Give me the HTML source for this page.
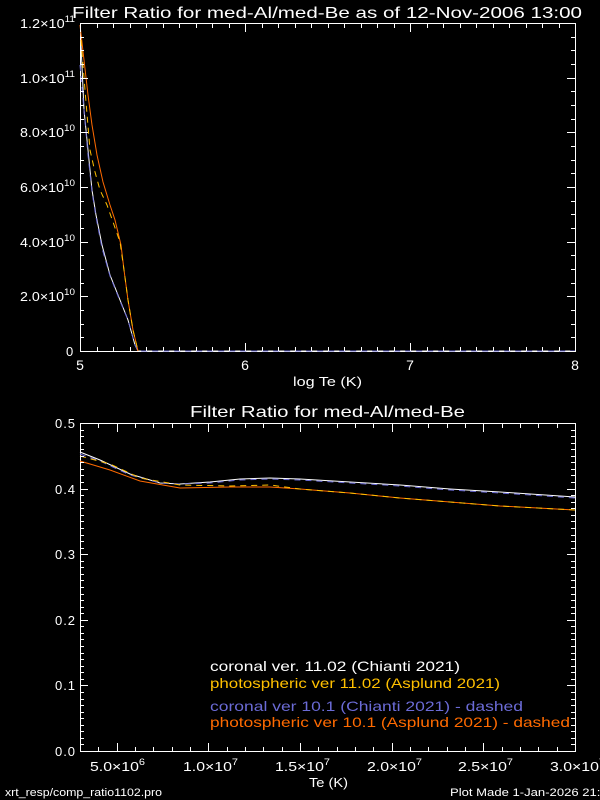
<!DOCTYPE html>
<html><head><meta charset="utf-8"><style>
html,body{margin:0;padding:0;background:#000;}
svg{display:block}
text{font-family:"Liberation Sans","DejaVu Sans",sans-serif;fill:#fff}
</style></head><body>
<svg id="s" width="600" height="800" xmlns="http://www.w3.org/2000/svg">
<rect width="600" height="800" fill="#000"/>
<text x="72" y="18" font-size="16" textLength="510" lengthAdjust="spacingAndGlyphs">Filter Ratio for med-Al/med-Be as of 12-Nov-2006 13:00</text>
<rect x="80.5" y="23.5" width="495" height="328" fill="none" stroke="#fff" stroke-width="1"/>
<g font-size="13" lengthAdjust="spacingAndGlyphs">
<text x="66" y="356">0</text>
<text x="20" y="301" textLength="55" lengthAdjust="spacingAndGlyphs">2.0×10<tspan font-size="9" dy="-6">10</tspan></text>
<text x="20" y="247" textLength="55" lengthAdjust="spacingAndGlyphs">4.0×10<tspan font-size="9" dy="-6">10</tspan></text>
<text x="20" y="192" textLength="55" lengthAdjust="spacingAndGlyphs">6.0×10<tspan font-size="9" dy="-6">10</tspan></text>
<text x="20" y="137" textLength="55" lengthAdjust="spacingAndGlyphs">8.0×10<tspan font-size="9" dy="-6">10</tspan></text>
<text x="20" y="83" textLength="55" lengthAdjust="spacingAndGlyphs">1.0×10<tspan font-size="9" dy="-6">11</tspan></text>
<text x="20" y="28" textLength="55" lengthAdjust="spacingAndGlyphs">1.2×10<tspan font-size="9" dy="-6">11</tspan></text>
</g>
<g font-size="14" text-anchor="middle">
<text x="80" y="370">5</text><text x="245" y="370">6</text><text x="410" y="370">7</text><text x="575" y="370">8</text>
</g>
<text x="293" y="386" font-size="13" textLength="69" lengthAdjust="spacingAndGlyphs">log Te (K)</text>
<polyline fill="none" stroke="#fff" points="81,45 84,110 88,150 92,190 96,215 102,245 110,275 120,300 128,320 135,345 138,351 575,351"/>
<polyline fill="none" stroke="#6b6bd6" stroke-dasharray="6,5" points="80,65 84,110 88,155 92,192 96,217 102,248 110,276 120,301 128,320 135,345 138,351 575,351"/>
<polyline fill="none" stroke="#ff6a00" points="80,25 84,60 88,95 92,125 97,155 103,182 110,205 115,220 121,245 124,270 128,300 133,330 138,351"/>
<polyline fill="none" stroke="#ffc000" stroke-dasharray="6,5" points="81,40 85,90 90,150 95,172 100,190 107,205 113,222 120,242 124,270 128,300 133,330 138,351"/>

<text x="190" y="417" font-size="16" textLength="275" lengthAdjust="spacingAndGlyphs">Filter Ratio for med-Al/med-Be</text>
<rect x="80.5" y="423.5" width="495" height="328" fill="none" stroke="#fff" stroke-width="1"/>
<g font-size="13">
<text x="55" y="756" textLength="20">0.0</text><text x="55" y="690" textLength="20">0.1</text><text x="55" y="625" textLength="20">0.2</text>
<text x="55" y="559" textLength="20">0.3</text><text x="55" y="494" textLength="20">0.4</text><text x="55" y="428" textLength="20">0.5</text>
</g>
<g font-size="13">
<text x="90" y="771" textLength="55" lengthAdjust="spacingAndGlyphs">5.0×10<tspan font-size="9" dy="-6">6</tspan></text>
<text x="183" y="771" textLength="55" lengthAdjust="spacingAndGlyphs">1.0×10<tspan font-size="9" dy="-6">7</tspan></text>
<text x="275" y="771" textLength="55" lengthAdjust="spacingAndGlyphs">1.5×10<tspan font-size="9" dy="-6">7</tspan></text>
<text x="367" y="771" textLength="55" lengthAdjust="spacingAndGlyphs">2.0×10<tspan font-size="9" dy="-6">7</tspan></text>
<text x="458" y="771" textLength="55" lengthAdjust="spacingAndGlyphs">2.5×10<tspan font-size="9" dy="-6">7</tspan></text>
<text x="550" y="771" textLength="55" lengthAdjust="spacingAndGlyphs">3.0×10<tspan font-size="9" dy="-6">7</tspan></text>
</g>
<text x="309" y="787" font-size="13" textLength="39" lengthAdjust="spacingAndGlyphs">Te (K)</text>
<polyline fill="none" stroke="#fff" points="80,452 100,460 130,474 160,483 180,484 210,482 240,479 270,478 300,479 350,482 400,485 450,489 500,492 575,497"/>
<polyline fill="none" stroke="#6b6bd6" stroke-dasharray="6,5" points="80,454 100,461 130,475 160,483 180,484 210,483 240,480 270,479 300,480 350,483 400,486 450,490 500,493 575,498"/>
<polyline fill="none" stroke="#ff6a00" points="80,461 110,470 140,481 180,488 230,487 270,487 300,489 350,493 400,498 450,502 500,506 575,510"/>
<polyline fill="none" stroke="#ffc000" stroke-dasharray="6,5" points="80,456 110,464 140,478 180,485 230,486 270,485 300,489 350,493 400,498 450,502 500,506 575,510"/>
<g font-size="14">
<text x="210" y="671" textLength="250" lengthAdjust="spacingAndGlyphs">coronal ver. 11.02 (Chianti 2021)</text>
<text x="210" y="688" style="fill:#ffc000" textLength="290" lengthAdjust="spacingAndGlyphs">photospheric ver 11.02 (Asplund 2021)</text>
<text x="210" y="711" style="fill:#6b6bd6" textLength="313" lengthAdjust="spacingAndGlyphs">coronal ver 10.1 (Chianti 2021) - dashed</text>
<text x="210" y="727" style="fill:#ff6a00" textLength="360" lengthAdjust="spacingAndGlyphs">photospheric ver 10.1 (Asplund 2021) - dashed</text>
</g>
<text x="5" y="796" font-size="11" textLength="157" lengthAdjust="spacingAndGlyphs">xrt_resp/comp_ratio1102.pro</text>
<text x="450" y="796" font-size="11" textLength="165" lengthAdjust="spacingAndGlyphs">Plot Made  1-Jan-2026 21:00</text>
<g id="t" stroke="#fff" stroke-width="1"></g>
</svg>
<script>
var g=document.getElementById('t'),d='';
function v(x,y1,y2){d+='M'+(Math.round(x)+.5)+' '+y1+'V'+y2;}
function h(y,x1,x2){d+='M'+x1+' '+(Math.round(y)+.5)+'H'+x2;}
for(var i=0;i<=30;i++){var x=80+i*16.5,L=i%10==0?8:4;v(x,351,351-L);v(x,24,24+L);}
for(var i=0;i<=24;i++){var y=351-i*328/24,L=i%4==0?8:4;h(y,80,80+L);h(y,575,575-L);}
for(var i=3;i<=30;i++){var x=80+(i-3)*495/27,L=i%5==0?8:4;v(x,751,751-L);v(x,424,424+L);}
for(var i=0;i<=50;i++){var y=751-i*328/50,L=i%10==0?8:4;h(y,80,80+L);h(y,575,575-L);}
var p=document.createElementNS('http://www.w3.org/2000/svg','path');p.setAttribute('d',d);g.appendChild(p);
</script>
</body></html>
